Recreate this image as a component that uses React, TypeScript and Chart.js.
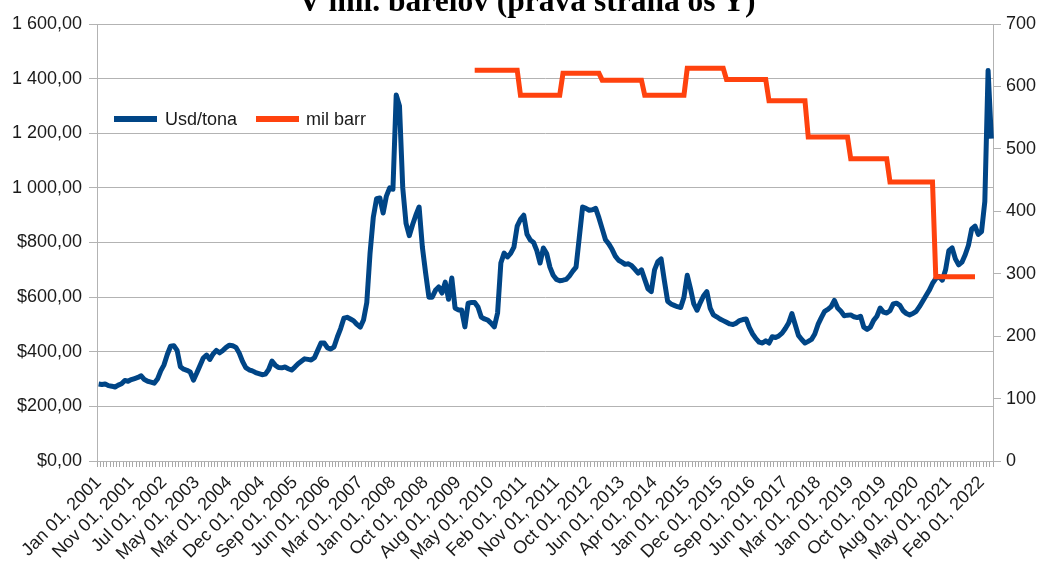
import React, { useEffect, useRef } from 'react';
import { Chart, registerables } from 'chart.js';

Chart.register(...registerables);

// Date labels shown every LABEL_EVERY categories
const dateLabels = [
  'Jan 01, 2001', 'Nov 01, 2001', 'Jul 01, 2002', 'May 01, 2003', 'Mar 01, 2004',
  'Dec 01, 2004', 'Sep 01, 2005', 'Jun 01, 2006', 'Mar 01, 2007', 'Jan 01, 2008',
  'Oct 01, 2008', 'Aug 01, 2009', 'May 01, 2010', 'Feb 01, 2011', 'Nov 01, 2011',
  'Oct 01, 2012', 'Jun 01, 2013', 'Apr 01, 2014', 'Jan 01, 2015', 'Dec 01, 2015',
  'Sep 01, 2016', 'Jun 01, 2017', 'Mar 01, 2018', 'Jan 01, 2019', 'Oct 01, 2019',
  'Aug 01, 2020', 'May 01, 2021', 'Feb 01, 2022',
];
const LABEL_EVERY = 10;

// Usd/tona (left axis)
const usdPerTon = [
  282, 280, 282, 276, 274, 271, 278, 283, 295, 292,
  298, 302, 306, 312, 298, 292, 289, 285, 300, 330,
  352, 390, 420, 422, 405, 345, 336, 332, 326, 296,
  322, 350, 377, 388, 372, 392, 405, 396, 405, 416,
  424, 422, 416, 395, 365, 342, 334, 330, 324, 320,
  316, 318, 335, 366, 351, 342, 341, 344, 338, 333,
  344, 356, 365, 374, 372, 370, 378, 405, 432, 432,
  414, 410, 418, 454, 485, 523, 526, 520, 513, 500,
  490, 516, 580, 761, 893, 960, 963, 908, 970, 1000,
  995, 1340, 1300, 1000, 870, 825, 865, 900, 930, 783,
  688, 600, 600, 625, 637, 615, 655, 592, 670, 560,
  553, 553, 491, 578, 580, 580, 564, 527, 520, 516,
  505, 491, 542, 725, 761, 747, 760, 783, 860, 885,
  900, 830, 809, 800, 770, 725, 780, 760, 710, 680,
  665, 660, 662, 665, 678, 695, 710, 820, 930, 925,
  918, 920, 925, 890, 850, 810, 795, 775, 750, 735,
  728, 720, 722, 715, 702, 688, 700, 665, 630, 620,
  700, 730, 740, 660, 585, 575, 570, 565, 562, 600,
  680, 630, 575, 552, 580, 605, 620, 560, 535, 528,
  520, 514, 508, 502, 500, 505, 514, 518, 520, 488,
  465, 448, 435, 432, 440, 432, 455, 452, 458, 468,
  485, 505, 540, 500, 460, 445, 432, 438, 445, 465,
  500, 525, 548, 555, 565, 588, 560, 548, 532, 534,
  535, 528, 525, 530, 490, 482, 490, 515, 530, 560,
  545, 542, 550, 575, 578, 570, 550, 540, 535, 540,
  548, 565, 585, 605, 625, 650, 668, 675, 662, 700,
  770, 780, 740, 718, 728, 755, 790, 850, 860, 830,
  840, 950, 1430, 1180,
];

// mil barr (right axis)
const milBarr: (number | null)[] = [
  ...Array(115).fill(null),
  626, 626, 626, 626, 626, 626, 626, 626, 626, 626, 626, 626, 626, 626,
  586, 586, 586, 586, 586, 586, 586, 586, 586, 586, 586, 586, 586,
  621, 621, 621, 621, 621, 621, 621, 621, 621, 621, 621, 621,
  610, 610, 610, 610, 610, 610, 610, 610, 610, 610, 610, 610, 610,
  586, 586, 586, 586, 586, 586, 586, 586, 586, 586, 586, 586, 586,
  629, 629, 629, 629, 629, 629, 629, 629, 629, 629, 629, 629,
  611, 611, 611, 611, 611, 611, 611, 611, 611, 611, 611, 611, 611,
  577, 577, 577, 577, 577, 577, 577, 577, 577, 577, 577, 577,
  519, 519, 519, 519, 519, 519, 519, 519, 519, 519, 519, 519, 519,
  484, 484, 484, 484, 484, 484, 484, 484, 484, 484, 484, 484,
  447, 447, 447, 447, 447, 447, 447, 447, 447, 447, 447, 447, 447, 447,
  295, 295, 295, 295, 295, 295, 295, 295, 295, 295, 295, 295, 295,
  null, null, null, null, null,
];

const leftTickLabels = [
  '$0,00', '$200,00', '$400,00', '$600,00', '$800,00',
  '1 000,00', '1 200,00', '1 400,00', '1 600,00',
];
const rightTickLabels = ['0', '100', '200', '300', '400', '500', '600', '700'];

const categories = usdPerTon.map((_, i) =>
  i % LABEL_EVERY === 0 ? dateLabels[i / LABEL_EVERY] ?? '' : ''
);

const BLUE = '#004586';
const ORANGE = '#ff420e';
const GRID = '#b3b3b3';
const TEXT = '#1a1a1a';
const FONT = 'Liberation Sans';

export default function App() {
  const ref = useRef<HTMLCanvasElement>(null);

  useEffect(() => {
    if (!ref.current) return;
    const chart = new Chart(ref.current, {
      type: 'line',
      data: {
        labels: categories,
        datasets: [
          {
            label: 'Usd/tona',
            data: usdPerTon,
            borderColor: BLUE,
            backgroundColor: BLUE,
            borderWidth: 5,
            pointRadius: 0,
            tension: 0,
            yAxisID: 'y',
            order: 1,
            borderJoinStyle: 'round',
          },
          {
            label: 'mil barr',
            data: milBarr,
            borderColor: ORANGE,
            backgroundColor: ORANGE,
            borderWidth: 5,
            pointRadius: 0,
            tension: 0,
            yAxisID: 'y1',
            order: 0,
            spanGaps: false,
          },
        ],
      },
      options: {
        animation: false,
        responsive: false,
        layout: { padding: { left: 12, top: 24, right: 0, bottom: 0 } },
        plugins: {
          legend: { display: false },
          tooltip: { enabled: false },
          title: { display: false },
        },
        scales: {
          x: {
            type: 'category',
            offset: true,
            grid: {
              drawOnChartArea: false,
              drawTicks: true,
              tickLength: 6,
              color: '#a8a8a8',
              offset: true,
            },
            border: { display: true, color: GRID },
            ticks: {
              autoSkip: false,
              maxRotation: 45,
              minRotation: 45,
              padding: 5,
              color: TEXT,
              font: { family: FONT, size: 18 },
              callback: (_v: any, i: number) => categories[i],
            },
            afterFit: (s: any) => {
              s.height = 107;
            },
          },
          y: {
            position: 'left',
            min: 0,
            max: 1600,
            grid: { color: GRID, tickLength: 8 },
            border: { display: true, color: GRID },
            ticks: {
              stepSize: 200,
              padding: 7,
              color: TEXT,
              font: { family: FONT, size: 18 },
              callback: (_v: any, i: number) => leftTickLabels[i],
            },
            afterFit: (s: any) => {
              s.width = 85;
            },
          },
          y1: {
            position: 'right',
            min: 0,
            max: 700,
            grid: { drawOnChartArea: false, color: GRID, tickLength: 8 },
            border: { display: true, color: GRID },
            ticks: {
              stepSize: 100,
              padding: 5,
              color: TEXT,
              font: { family: FONT, size: 18 },
              callback: (_v: any, i: number) => rightTickLabels[i],
            },
            afterFit: (s: any) => {
              s.width = 47;
            },
          },
        },
      },
    });
    return () => chart.destroy();
  }, []);

  const legendText: React.CSSProperties = {
    position: 'absolute',
    top: 108,
    font: `18px "${FONT}"`,
    lineHeight: '22px',
    color: TEXT,
    whiteSpace: 'nowrap',
  };

  return (
    <div
      style={{
        position: 'fixed',
        left: 0,
        top: 0,
        width: 1040,
        height: 568,
        background: '#fff',
        overflow: 'hidden',
      }}
    >
      <canvas ref={ref} width={1040} height={568} style={{ display: 'block' }} />
      <div
        style={{
          position: 'absolute',
          top: -15,
          left: 0,
          width: 1054,
          textAlign: 'center',
          font: 'bold 31.5px "Liberation Serif"',
          lineHeight: '32px',
          color: '#000',
          whiteSpace: 'nowrap',
        }}
      >
        V mil. barelov (prava strana os Y)
      </div>
      <div style={{ position: 'absolute', left: 114, top: 116, width: 43, height: 6, background: BLUE }} />
      <div style={{ ...legendText, left: 165 }}>Usd/tona</div>
      <div style={{ position: 'absolute', left: 256, top: 116, width: 43, height: 6, background: ORANGE }} />
      <div style={{ ...legendText, left: 306 }}>mil barr</div>
    </div>
  );
}
